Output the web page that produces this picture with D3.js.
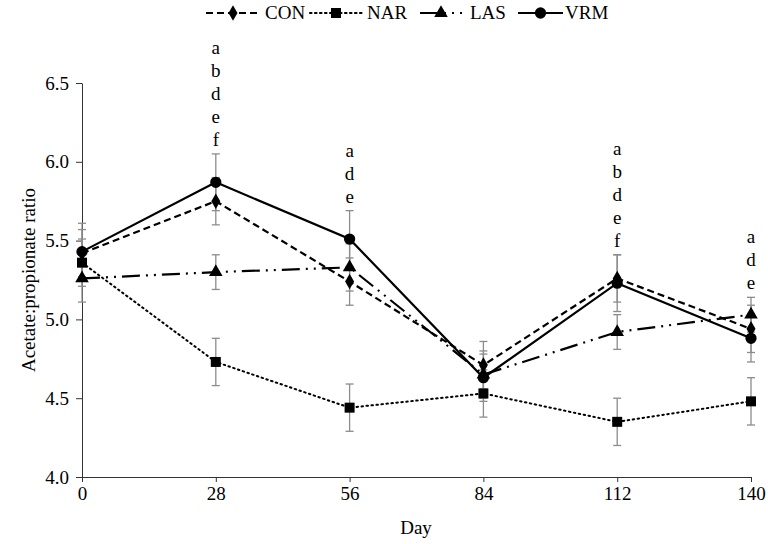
<!DOCTYPE html>
<html><head><meta charset="utf-8">
<script src="https://cdn.jsdelivr.net/npm/d3@7/dist/d3.min.js"></script>
<style>body{margin:0;background:#fff}svg{display:block}</style>
</head><body><svg id="c" width="768" height="544"></svg>
<script>
const days = [0, 28, 56, 84, 112, 140];
const yTicks = [4.0, 4.5, 5.0, 5.5, 6.0, 6.5];
const seriesNames = ["CON", "NAR", "LAS", "VRM"];
const CON = [5.42, 5.75, 5.24, 4.71, 5.26, 4.94];
const NAR = [5.36, 4.73, 4.44, 4.53, 4.35, 4.48];
const LAS = [5.26, 5.30, 5.33, 4.65, 4.92, 5.03];
const VRM = [5.43, 5.87, 5.51, 4.63, 5.23, 4.88];
const CON_se = [0.15, 0.15, 0.15, 0.15, 0.15, 0.15];
const NAR_se = [0.15, 0.15, 0.15, 0.15, 0.15, 0.15];
const LAS_se = [0.15, 0.11, 0.15, 0.15, 0.11, 0.11];
const VRM_se = [0.18, 0.18, 0.18, 0.15, 0.18, 0.15];
const letterDays = [28, 56, 112, 140];
const letters = [["a","b","d","e","f"], ["a","d","e"], ["a","b","d","e","f"], ["a","d","e"]];

const FONT = "'Liberation Serif', 'Times New Roman', serif";
const FS = 19;
const svg = d3.select("#c").style("font-family", FONT);
const m = {l: 82, r: 751, t: 83, b: 477};
const x = d3.scaleLinear().domain([0, 140]).range([m.l, m.r]);
const y = d3.scaleLinear().domain([4.0, 6.5]).range([m.b, m.t]);

// axes
const xa = svg.append("g").attr("transform", `translate(0,${m.b})`)
  .call(d3.axisBottom(x).tickValues(days).tickSize(5).tickSizeOuter(0).tickPadding(5));
const ya = svg.append("g").attr("transform", `translate(${m.l},0)`)
  .call(d3.axisLeft(y).tickValues(yTicks).tickFormat(d3.format(".1f")).tickSize(6).tickSizeOuter(0).tickPadding(7));
[xa, ya].forEach(a => {
  a.attr("font-family", null).style("font-family", FONT);
  a.selectAll("path,line").attr("stroke", "#333").attr("stroke-width", 1);
  a.selectAll("text").attr("font-size", FS).attr("fill", "#000").style("font-family", FONT);
});

svg.append("text").attr("x", 416).attr("y", 534).attr("text-anchor", "middle").attr("font-size", FS).style("font-family", FONT).text("Day");
svg.append("text").attr("transform", "translate(35,280) rotate(-90)").attr("text-anchor", "middle").attr("font-size", FS).style("font-family", FONT).text("Acetate:propionate ratio");

const series = [
  {name: "CON", v: CON, se: CON_se, dash: "7,4", cap: "butt", shape: d3.symbolDiamond, size: 70},
  {name: "NAR", v: NAR, se: NAR_se, dash: "1.5,3.5", cap: "round", shape: d3.symbolSquare, size: 100},
  {name: "LAS", v: LAS, se: LAS_se, dash: "18,6,2,6,2,6", cap: "butt", shape: d3.symbolTriangle, size: 80},
  {name: "VRM", v: VRM, se: VRM_se, dash: null, cap: "butt", shape: d3.symbolCircle, size: 100}
];

// error bars
series.forEach(s => {
  const g = svg.append("g").attr("stroke", "#8c8c8c").attr("stroke-width", 1.3);
  days.forEach((d, i) => {
    const cx = x(d), y1 = y(s.v[i] + s.se[i]), y2 = y(s.v[i] - s.se[i]);
    g.append("line").attr("x1", cx).attr("x2", cx).attr("y1", y1).attr("y2", y2);
    g.append("line").attr("x1", cx - 4).attr("x2", cx + 4).attr("y1", y1).attr("y2", y1);
    g.append("line").attr("x1", cx - 4).attr("x2", cx + 4).attr("y1", y2).attr("y2", y2);
  });
});

const line = d3.line().x((d, i) => x(days[i])).y(d => y(d));
series.forEach(s => {
  svg.append("path").datum(s.v).attr("d", line).attr("fill", "none").attr("stroke", "#000")
    .attr("stroke-width", s.name === "NAR" ? 2 : 2.2).attr("stroke-dasharray", s.dash).attr("stroke-linecap", s.cap);
  svg.append("g").selectAll("path").data(s.v).join("path")
    .attr("transform", (d, i) => `translate(${x(days[i])},${y(d)})`)
    .attr("d", d3.symbol().type(s.shape).size(s.size)).attr("fill", "#000");
});

// letters
letterDays.forEach((d, k) => {
  const arr = letters[k];
  const idx = days.indexOf(d);
  const top = d3.max(series, s => s.v[idx] + s.se[idx]);
  const base = y(top) - 8;
  arr.forEach((l, j) => {
    svg.append("text").attr("x", x(d)).attr("y", base - (arr.length - 1 - j) * 23)
      .attr("text-anchor", "middle").attr("font-size", FS).style("font-family", FONT).text(l);
  });
});

// legend
const lg = [
  {x0: 206, x1: 260, tx: 265},
  {x0: 310, x1: 362, tx: 367},
  {x0: 420, x1: 462, tx: 470},
  {x0: 518, x1: 563, tx: 565}
];
series.forEach((s, i) => {
  const L = lg[i], cy = 13;
  svg.append("line").attr("x1", L.x0).attr("x2", L.x1).attr("y1", cy).attr("y2", cy)
    .attr("stroke", "#000").attr("stroke-width", 2.2).attr("stroke-dasharray", s.dash).attr("stroke-linecap", s.cap);
  svg.append("path").attr("transform", `translate(${(L.x0 + L.x1) / 2},${cy})`)
    .attr("d", d3.symbol().type(s.shape).size(s.size)).attr("fill", "#000");
  svg.append("text").attr("x", L.tx).attr("y", cy + 6).attr("font-size", FS).style("font-family", FONT).text(s.name);
});
</script></body></html>
